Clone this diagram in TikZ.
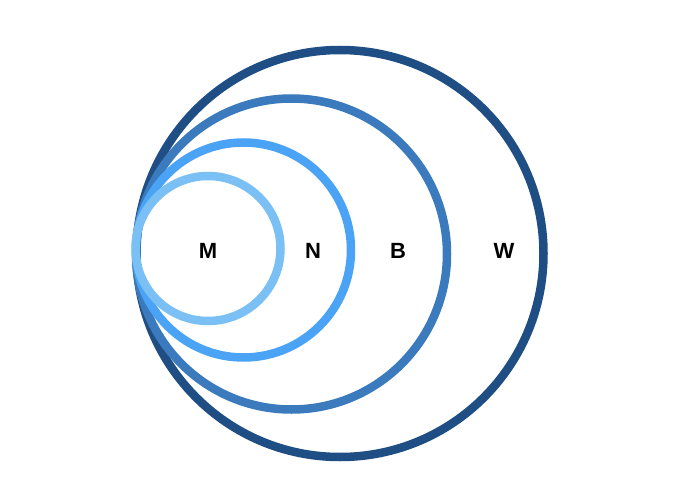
\documentclass[tikz,border=0pt]{standalone}
\usepackage{fontspec}
\setmainfont{Liberation Sans}
\definecolor{cW}{HTML}{1F4E85}
\definecolor{cB}{HTML}{3A7ABD}
\definecolor{cN}{HTML}{4BA3F5}
\definecolor{cM}{HTML}{7BC0F5}
\begin{document}
\begin{tikzpicture}[x=1pt,y=-1pt,
  ring/.style={line width=8.5pt},
  lab/.style={font=\fontsize{22}{26}\selectfont\bfseries, inner sep=0pt}]
\useasboundingbox[fill=white] (0,0) rectangle (680,500);
\draw[ring, cW] (340,253.5) circle[radius=203.5];
\draw[ring, cB] (291.5,254) circle[radius=155.5];
\draw[ring, cN] (243.5,250) circle[radius=107.5];
\draw[ring, cM] (208,248.5) circle[radius=72.5];
\node[lab] (M) at (208,251) {M};
\node[lab] (N) at (313,251) {N};
\node[lab] (B) at (398,251) {B};
\node[lab] (W) at (504,251) {W};
\end{tikzpicture}
\end{document}
